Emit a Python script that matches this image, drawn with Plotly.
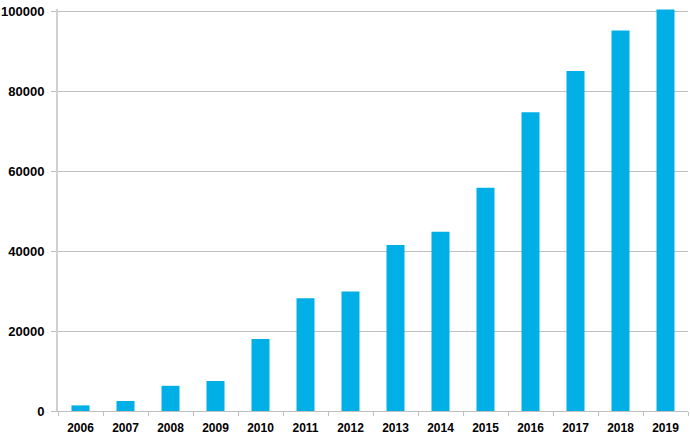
import plotly.graph_objects as go

years = ["2006", "2007", "2008", "2009", "2010", "2011", "2012",
         "2013", "2014", "2015", "2016", "2017", "2018", "2019"]
values = [1400, 2500, 6300, 7500, 18000, 28200, 29900,
          41500, 44800, 55800, 74700, 85000, 95100, 100400]
y_ticks = [0, 20000, 40000, 60000, 80000, 100000]

fig = go.Figure(go.Bar(
    x=years, y=values,
    marker=dict(color="#00AFE6", line=dict(width=0)),
    hoverinfo="x+y",
))

fam = "Liberation Sans, Arial, sans-serif"

fig.update_layout(
    width=690, height=437,
    margin=dict(l=58, r=2, t=9, b=26),
    paper_bgcolor="white", plot_bgcolor="white",
    bargap=0.6,
    showlegend=False,
    font=dict(family=fam, size=12, color="#000000"),
    xaxis=dict(
        type="category", automargin=False,
        showline=True, linecolor="#BFBFBF", linewidth=1,
        ticks="outside", tickson="boundaries", ticklen=4, tickcolor="#BFBFBF",
        tickfont=dict(family=fam, size=12, color="#000000", weight="bold"),
        showgrid=False,
        ticklabelstandoff=6,
    ),
    yaxis=dict(
        automargin=False,
        range=[0, 100500],
        tickvals=y_ticks, ticktext=[str(v) for v in y_ticks],
        showgrid=True, gridcolor="#BFBFBF", gridwidth=1,
        showline=True, linecolor="#D0D0D0", linewidth=2,
        ticks="outside", ticklen=5, tickcolor="#BFBFBF",
        tickfont=dict(family=fam, size=13, color="#000000", weight="bold"),
        zeroline=False,
        ticklabelstandoff=4,
    ),
)

fig.write_html("out.html",
               config={"displayModeBar": False},
               post_script="document.body.style.margin='0';document.body.style.overflow='hidden';")
